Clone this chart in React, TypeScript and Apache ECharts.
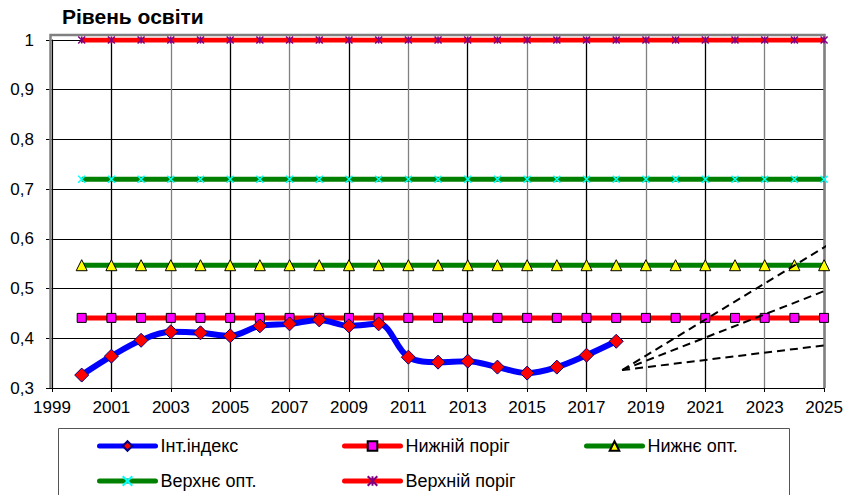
import React, { useEffect, useRef } from "react";
import * as echarts from "echarts";

const titleText = "Рівень освіти";
const seriesNames = ["Інт.індекс", "Нижній поріг", "Нижнє опт.", "Верхнє опт.", "Верхній поріг"];

const indexYears = [2000, 2001, 2002, 2003, 2004, 2005, 2006, 2007, 2008, 2009, 2010, 2011, 2012, 2013, 2014, 2015, 2016, 2017, 2018];
const intIndex = [0.326, 0.364, 0.396, 0.413, 0.411, 0.405, 0.425, 0.429, 0.437, 0.425, 0.429, 0.362, 0.352, 0.354, 0.342, 0.330, 0.342, 0.366, 0.394];

const levelYears = [2000, 2001, 2002, 2003, 2004, 2005, 2006, 2007, 2008, 2009, 2010, 2011, 2012, 2013, 2014, 2015, 2016, 2017, 2018, 2019, 2020, 2021, 2022, 2023, 2024, 2025];
const lowerThreshold = [0.441, 0.441, 0.441, 0.441, 0.441, 0.441, 0.441, 0.441, 0.441, 0.441, 0.441, 0.441, 0.441, 0.441, 0.441, 0.441, 0.441, 0.441, 0.441, 0.441, 0.441, 0.441, 0.441, 0.441, 0.441, 0.441];
const lowerOpt = [0.547, 0.547, 0.547, 0.547, 0.547, 0.547, 0.547, 0.547, 0.547, 0.547, 0.547, 0.547, 0.547, 0.547, 0.547, 0.547, 0.547, 0.547, 0.547, 0.547, 0.547, 0.547, 0.547, 0.547, 0.547, 0.547];
const upperOpt = [0.72, 0.72, 0.72, 0.72, 0.72, 0.72, 0.72, 0.72, 0.72, 0.72, 0.72, 0.72, 0.72, 0.72, 0.72, 0.72, 0.72, 0.72, 0.72, 0.72, 0.72, 0.72, 0.72, 0.72, 0.72, 0.72];
const upperThreshold = [1, 1, 1, 1, 1, 1, 1, 1, 1, 1, 1, 1, 1, 1, 1, 1, 1, 1, 1, 1, 1, 1, 1, 1, 1, 1];

// dashed trend lines: start point and three end points
const trendStart = [2018.2, 0.336];
const trendEnds = [
  [2025.25, 0.592],
  [2025.05, 0.496],
  [2025.05, 0.386],
];

const xMin = 1999;
const xMax = 2025;
const yMin = 0.3;
const yMax = 1;

const FONT = "'Liberation Sans', Arial, sans-serif";

function pairs(xs: number[], ys: number[]) {
  return xs.map((x, i) => [x, ys[i]]);
}

export default function App() {
  const ref = useRef<HTMLDivElement>(null);
  useEffect(() => {
    if (!ref.current) return;
    const chart = echarts.init(ref.current, undefined, { renderer: "svg" });
    const xPath = "path://M0,0L10,10M10,0L0,10";
    const starPath = "path://M0,0L10,10M10,0L0,10M5,0L5,10";

    const legendPos = [
      { left: 97, top: 437 },
      { left: 342, top: 437 },
      { left: 584, top: 437 },
      { left: 97, top: 472 },
      { left: 342, top: 472 },
    ];

    const option: any = {
      animation: false,
      textStyle: { fontFamily: FONT },
      title: {
        text: titleText,
        left: 62,
        top: 6,
        padding: 0,
        textStyle: { fontSize: 21, fontWeight: "bold", color: "#000", fontFamily: FONT },
      },
      grid: { left: 52, right: 21, top: 40, bottom: 107, containLabel: false },
      legend: legendPos.map((p, i) => ({
        data: [seriesNames[i]],
        left: p.left,
        top: p.top,
        padding: 0,
        itemWidth: 56,
        itemHeight: 12,
        itemGap: 0,
        lineStyle: { width: 5, cap: "round" },
        textStyle: { fontSize: 18, lineHeight: 18, color: "#000", fontFamily: FONT },
        selectedMode: false,
      })),
      graphic: [
        {
          type: "polyline",
          shape: { points: [[50.5, 388], [50.5, 35], [824.5, 35], [824.5, 388]] },
          style: { stroke: "#808080", lineWidth: 2.5, fill: null },
          z: 1,
          silent: true,
        },
        {
          type: "rect",
          shape: { x: 58.5, y: 428.5, width: 731, height: 80 },
          style: { stroke: "#555", lineWidth: 1, fill: "none" },
          silent: true,
        },
      ],
      xAxis: {
        type: "value",
        min: xMin,
        max: xMax,
        interval: 2,
        axisLine: { show: true, lineStyle: { color: "#000", width: 1 } },
        axisTick: { show: true, length: 4, lineStyle: { color: "#000" } },
        axisLabel: {
          fontSize: 17,
          color: "#000",
          margin: 11,
          fontFamily: FONT,
          formatter: (v: number) => String(v),
        },
        splitLine: { show: true, lineStyle: { color: ["#808080", "#000000"], width: 1.3 } },
      },
      yAxis: {
        type: "value",
        min: yMin,
        max: yMax,
        interval: 0.1,
        axisLine: { show: true, lineStyle: { color: "#000", width: 1 } },
        axisTick: { show: true, length: 6, lineStyle: { color: "#000" } },
        axisLabel: {
          fontSize: 17,
          color: "#000",
          margin: 18,
          fontFamily: FONT,
          formatter: (v: number) => String(Math.round(v * 10) / 10).replace(".", ","),
        },
        splitLine: { show: true, lineStyle: { color: "#000", width: 1 } },
      },
      series: [
        {
          name: seriesNames[0],
          type: "line",
          data: pairs(indexYears, intIndex),
          smooth: 0.35,
          symbol: "diamond",
          symbolSize: 14,
          lineStyle: { color: "#0000FF", width: 6 },
          itemStyle: { color: "#FF0000", borderColor: "#000080", borderWidth: 1 },
          z: 6,
        },
        {
          name: seriesNames[1],
          type: "line",
          data: pairs(levelYears, lowerThreshold),
          symbol: "rect",
          symbolSize: 9,
          lineStyle: { color: "#FF0000", width: 5 },
          itemStyle: { color: "#FF00FF", borderColor: "#000", borderWidth: 1 },
          z: 5,
        },
        {
          name: seriesNames[2],
          type: "line",
          data: pairs(levelYears, lowerOpt),
          symbol: "triangle",
          symbolSize: 11,
          lineStyle: { color: "#008000", width: 5 },
          itemStyle: { color: "#FFFF00", borderColor: "#000", borderWidth: 1 },
          z: 5,
        },
        {
          name: seriesNames[3],
          type: "line",
          data: pairs(levelYears, upperOpt),
          symbol: xPath,
          symbolSize: 7,
          lineStyle: { color: "#008000", width: 5 },
          itemStyle: { color: "#00FFFF", borderColor: "#00FFFF", borderWidth: 1.5 },
          z: 5,
        },
        {
          name: seriesNames[4],
          type: "line",
          data: pairs(levelYears, upperThreshold),
          symbol: starPath,
          symbolSize: 7,
          lineStyle: { color: "#FF0000", width: 5 },
          itemStyle: { color: "#800080", borderColor: "#800080", borderWidth: 1.5 },
          z: 5,
        },
        ...trendEnds.map((end, i) => ({
          name: "trend" + i,
          type: "line",
          data: [trendStart, end],
          symbol: "none",
          clip: false,
          lineStyle: { color: "#000", width: 2, type: [8, 5] },
          z: 7,
        })),
      ],
    };
    chart.setOption(option);
    return () => chart.dispose();
  }, []);
  return (
    <div
      ref={ref}
      style={{ position: "fixed", left: 0, top: 0, width: 846, height: 495, background: "#fff" }}
    />
  );
}
